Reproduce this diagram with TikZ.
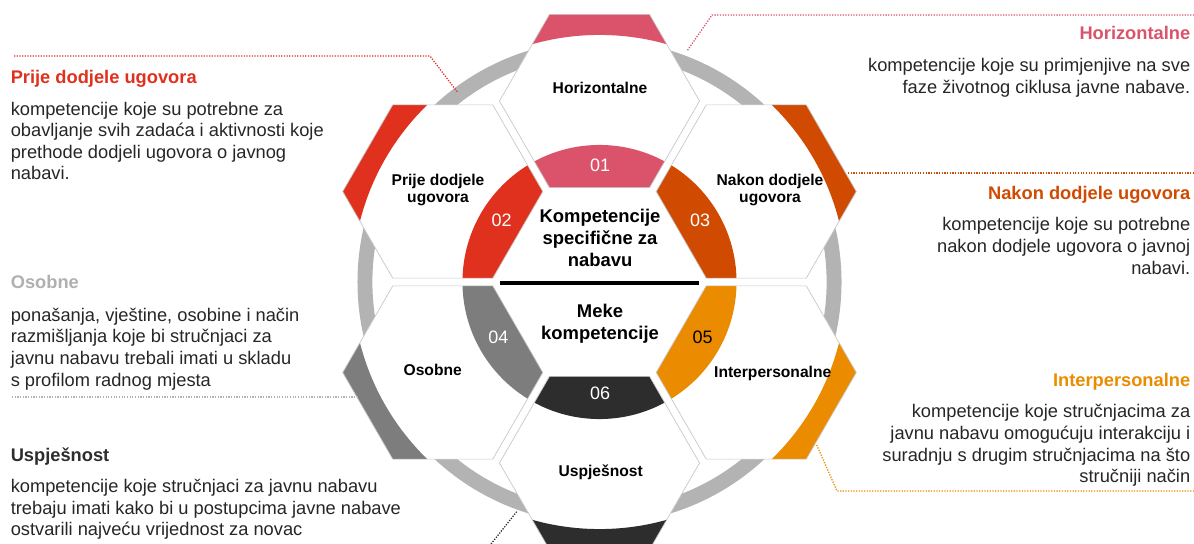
\documentclass[tikz,border=0pt]{standalone}
\usepackage{fontspec}
\setmainfont{Liberation Sans}
\usetikzlibrary{shapes.geometric}

\definecolor{cpink}{HTML}{DB536A}
\definecolor{cred}{HTML}{E0301E}
\definecolor{cdorange}{HTML}{D04A02}
\definecolor{corange}{HTML}{EB8C00}
\definecolor{cgray}{HTML}{7D7D7D}
\definecolor{cdark}{HTML}{2D2D2D}
\definecolor{cring}{HTML}{B3B3B3}
\definecolor{clight}{HTML}{B0B0B0}
\definecolor{hexline}{HTML}{C8C8C8}
\definecolor{ctext}{HTML}{262626}

\begin{document}
\begin{tikzpicture}[x=0.025cm,y=-0.025cm,
    hexcell/.style={regular polygon, regular polygon sides=6, minimum size=5cm,
      inner sep=0pt, outer sep=0pt, draw=hexline, line width=0.5pt, fill=white},
    band/.style={path picture={
      \fill[#1] (C) circle[radius=3.425cm];
      \fill[#1, even odd rule] (C) circle[radius=6.175cm] (C) circle[radius=10cm];}},
    hexlabel/.style={font=\fontsize{11.1}{12.5}\selectfont\bfseries, align=center, inner sep=0pt, anchor=base},
    midlabel/.style={font=\fontsize{13.1}{15.6}\selectfont\bfseries, align=center, inner sep=0pt, anchor=base},
    num/.style={font=\fontsize{12.8}{14}\selectfont, text=white, inner sep=0pt, anchor=base},
    head/.style={font=\fontsize{13}{15.4}\selectfont\bfseries, inner sep=0pt},
    body/.style={font=\fontsize{13}{15.4}\selectfont, text=ctext, inner sep=0pt},
    leader/.style={densely dotted, line width=0.9pt}]
  %\draw[help lines](0,0) grid (1194,544);
  \useasboundingbox (0,0) rectangle (1194,544);
  \coordinate (C) at (599.5,282);

  % ring behind the cells
  \draw[cring, line width=10.6pt] (C) circle[radius=5.8625cm];

  % six cells
  \draw (599.5,101) node[hexcell, band=cpink] (h1) {};
  \draw (442.75,191.5) node[hexcell, band=cred] (h2) {};
  \draw (756.25,191.5) node[hexcell, band=cdorange] (h3) {};
  \draw (442.75,372.5) node[hexcell, band=cgray] (h4) {};
  \draw (756.25,372.5) node[hexcell, band=corange] (h5) {};
  \draw (599.5,463) node[hexcell, band=cdark] (h6) {};

  % base of a multi-line node = last line
  \draw (600,93.3) node[hexlabel] (l1) {Horizontalne};
  \draw (438,202.7) node[hexlabel] (l2) {Prije dodjele\\ugovora};
  \draw (770,202.7) node[hexlabel] (l3) {Nakon dodjele\\ugovora};
  \draw (432.7,375.7) node[hexlabel] (l4) {Osobne};
  \draw (772.7,377.3) node[hexlabel] (l5) {Interpersonalne};
  \draw (600.7,476.7) node[hexlabel] (l6) {Uspješnost};

  \draw (600,171.4) node[num] (n01) {01};
  \draw (501.7,226.7) node[num] (n02) {02};
  \draw (700,226.7) node[num] (n03) {03};
  \draw (498.3,343.3) node[num] (n04) {04};
  \draw (702.7,343.3) node[num, text=black] (n05) {05};
  \draw (600,399.3) node[num] (n06) {06};

  % middle
  \draw (600,266.7) node[midlabel] (m1) {Kompetencije\\specifične za\\nabavu};
  \draw (600,339.7) node[midlabel] (m2) {Meke\\kompetencije};
  \coordinate (sl) at (500,283);
  \coordinate (sr) at (699,283);
  \draw[line width=2.4pt] (sl)--(sr);

  % left texts
  \draw (10.5,83.3) node[head, text=cred, anchor=base west] (t2) {Prije dodjele ugovora};
  \draw (10.5,180) node[body, align=left, anchor=base west] (d2) {kompetencije koje su potrebne za\\obavljanje svih zadaća i aktivnosti koje\\prethode dodjeli ugovora o javnog\\nabavi.};
  \draw (10.5,288.3) node[head, text=clight, anchor=base west] (t4) {Osobne};
  \draw (10.5,386) node[body, align=left, anchor=base west] (d4) {ponašanja, vještine, osobine i način\\razmišljanja koje bi stručnjaci za\\javnu nabavu trebali imati u skladu\\s profilom radnog mjesta};
  \draw (10.5,461) node[head, text=cdark, anchor=base west] (t6) {Uspješnost};
  \draw (10.5,535.7) node[body, align=left, anchor=base west] (d6) {kompetencije koje stručnjaci za javnu nabavu\\trebaju imati kako bi u postupcima javne nabave\\ostvarili najveću vrijednost za novac};

  % right texts
  \draw (1190.5,40) node[head, text=cpink, anchor=base east] (t1) {Horizontalne};
  \draw (1190.5,93.3) node[body, align=right, anchor=base east] (d1) {kompetencije koje su primjenjive na sve\\faze životnog ciklusa javne nabave.};
  \draw (1190.5,200) node[head, text=cdorange, anchor=base east] (t3) {Nakon dodjele ugovora};
  \draw (1190.5,274) node[body, align=right, anchor=base east] (d3) {kompetencije koje su potrebne\\nakon dodjele ugovora o javnoj\\nabavi.};
  \draw (1190.5,386) node[head, text=corange, anchor=base east] (t5) {Interpersonalne};
  \draw (1190.5,482.7) node[body, align=right, anchor=base east] (d5) {kompetencije koje stručnjacima za\\javnu nabavu omogućuju interakciju i\\suradnju s drugim stručnjacima na što\\stručniji način};

  % leaders
  \coordinate (a2) at (14,56);
  \coordinate (b2) at (430,56);
  \coordinate (c2) at (457.6,92.4);
  \draw[leader, cred] (a2)--(b2)--(c2);
  \coordinate (a1) at (1194,15);
  \coordinate (b1) at (712,15);
  \coordinate (c1) at (687,51);
  \draw[leader, cpink] (a1)--(b1)--(c1);
  \coordinate (a3) at (1194,173);
  \coordinate (c3) at (848,173);
  \draw[leader, cdorange] (a3)--(c3);
  \coordinate (a4) at (12,397);
  \coordinate (c4) at (357,397);
  \draw[leader, clight] (a4)--(c4);
  \coordinate (a5) at (1194,491);
  \coordinate (b5) at (837,491);
  \coordinate (c5) at (816.7,445);
  \draw[leader, corange] (a5)--(b5)--(c5);
  \coordinate (a6) at (491,544);
  \coordinate (c6) at (516.7,511.7);
  \draw[leader, cdark] (a6)--(c6);
\end{tikzpicture}
\end{document}
